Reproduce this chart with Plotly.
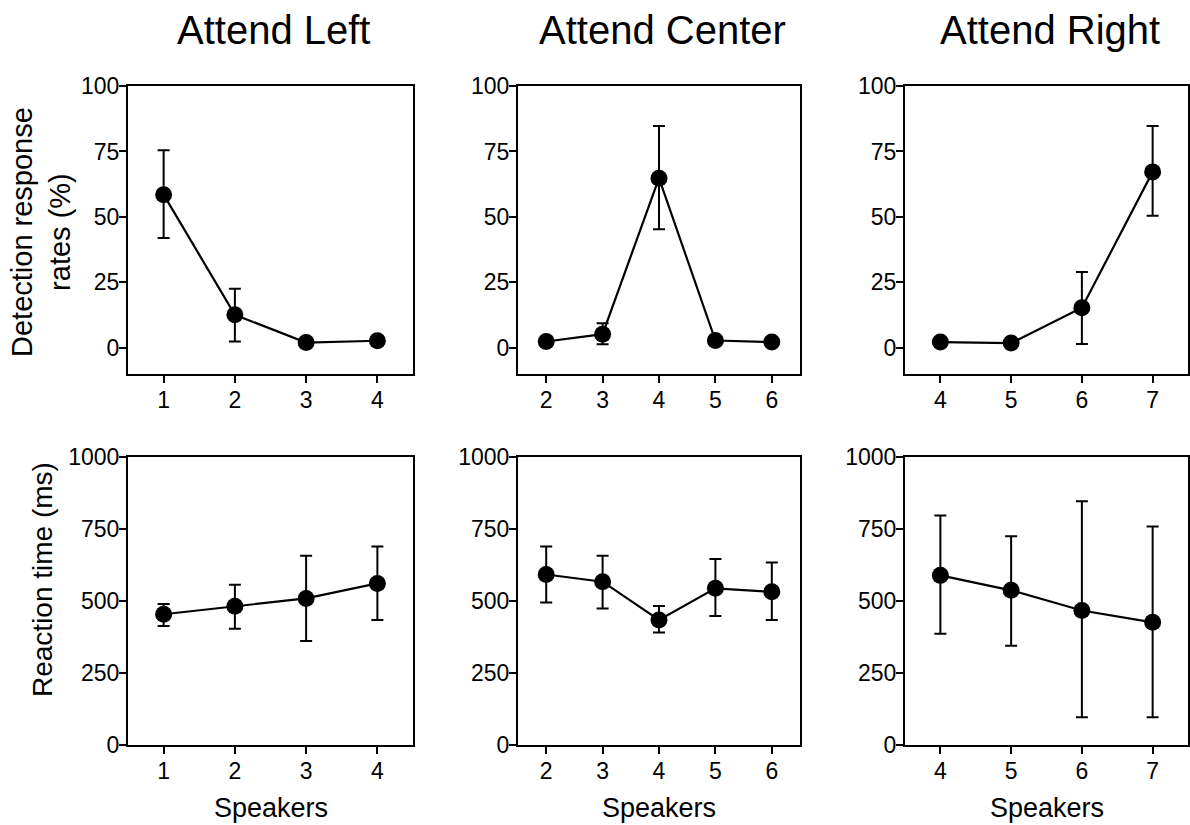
import plotly.graph_objects as go

W, H = 1190, 825
FONT = "Liberation Sans, Arial, sans-serif"

# ---- data ----
titles = ["Attend Left", "Attend Center", "Attend Right"]
speakers_left = [1, 2, 3, 4]
speakers_center = [2, 3, 4, 5, 6]
speakers_right = [4, 5, 6, 7]

det_left = [58.5, 12.6, 2.0, 2.7]
det_left_plus = [17.0, 10.0, 0, 0]
det_left_minus = [16.6, 10.2, 0, 0]

det_center = [2.4, 5.2, 64.8, 2.8, 2.2]
det_center_plus = [0, 4.2, 19.9, 0, 0]
det_center_minus = [0, 3.8, 19.5, 0, 0]

det_right = [2.2, 1.8, 15.3, 67.2]
det_right_plus = [0, 0, 13.7, 17.5]
det_right_minus = [0, 0, 13.8, 16.8]

rt_left = [454, 482, 509, 561]
rt_left_plus = [36, 74, 148, 128]
rt_left_minus = [41, 78, 148, 127]

rt_center = [592, 567, 434, 544, 532]
rt_center_plus = [97, 90, 49, 102, 102]
rt_center_minus = [97, 93, 43, 96, 98]

rt_right = [589, 537, 467, 426]
rt_right_plus = [208, 188, 379, 333]
rt_right_minus = [203, 192, 371, 330]

det_ticks = [0, 25, 50, 75, 100]
rt_ticks = [0, 250, 500, 750, 1000]

# ---- layout geometry (pixels) ----
xdom_px = [(128, 413), (518, 800), (905, 1188)]
ydom_px = [(86, 374), (457, 745)]  # top row, bottom row (from top)

def px_x(v):
    return v / W

def px_y(v):
    return 1 - v / H

panels = [
    (speakers_left, det_left, det_left_plus, det_left_minus, rt_left, rt_left_plus, rt_left_minus),
    (speakers_center, det_center, det_center_plus, det_center_minus, rt_center, rt_center_plus, rt_center_minus),
    (speakers_right, det_right, det_right_plus, det_right_minus, rt_right, rt_right_plus, rt_right_minus),
]

fig = go.Figure()

axis_common = dict(
    showline=True, linecolor="black", linewidth=2, mirror=True,
    ticks="outside", ticklen=7, tickwidth=2, tickcolor="black",
    showgrid=False, zeroline=False, automargin=False,
    tickfont=dict(family=FONT, size=23, color="black"),
)

layout_axes = {}
idx = 0
for row in range(2):
    for col in range(3):
        idx += 1
        xs, d, dp, dm, r, rp, rm = panels[col]
        y = d if row == 0 else r
        yp = dp if row == 0 else rp
        ym = dm if row == 0 else rm
        xname = "x" if idx == 1 else f"x{idx}"
        yname = "y" if idx == 1 else f"y{idx}"
        fig.add_trace(go.Scatter(
            x=xs, y=y, xaxis=xname, yaxis=yname,
            mode="lines+markers",
            line=dict(color="black", width=2.2),
            marker=dict(color="black", size=17),
            error_y=dict(type="data", array=yp, arrayminus=ym, symmetric=False,
                         color="black", thickness=2, width=6),
            showlegend=False, hoverinfo="skip",
        ))
        x0, x1 = xdom_px[col]
        ytop, ybot = ydom_px[row]
        xkey = "xaxis" if idx == 1 else f"xaxis{idx}"
        ykey = "yaxis" if idx == 1 else f"yaxis{idx}"
        layout_axes[xkey] = dict(
            axis_common, domain=[px_x(x0), px_x(x1)],
            range=[xs[0] - 0.5, xs[-1] + 0.5], tickvals=xs,
            anchor=yname, ticklabelstandoff=-3,
        )
        if row == 0:
            layout_axes[ykey] = dict(
                axis_common, domain=[px_y(ybot), px_y(ytop)],
                range=[-10, 100], tickvals=det_ticks, anchor=xname,
                ticklabelstandoff=-5,
            )
        else:
            layout_axes[ykey] = dict(
                axis_common, domain=[px_y(ybot), px_y(ytop)],
                range=[0, 1000], tickvals=rt_ticks, anchor=xname,
                ticklabelstandoff=-5,
            )

annotations = []
for col in range(3):
    cx = (xdom_px[col][0] + xdom_px[col][1]) / 2
    annotations.append(dict(
        text=titles[col], x=px_x(cx + 3), y=px_y(30), xref="paper", yref="paper",
        xanchor="center", yanchor="middle", showarrow=False,
        font=dict(family=FONT, size=40, color="black"),
    ))
    annotations.append(dict(
        text="Speakers", x=px_x(cx), y=px_y(808), xref="paper", yref="paper",
        xanchor="center", yanchor="middle", showarrow=False,
        font=dict(family=FONT, size=27, color="black"),
    ))

annotations.append(dict(
    text="Detection response<br>rates (%)", x=px_x(41), y=px_y(232),
    xref="paper", yref="paper", xanchor="center", yanchor="middle",
    showarrow=False, textangle=-90,
    font=dict(family=FONT, size=29, color="black"),
))
annotations.append(dict(
    text="Reaction time (ms)", x=px_x(42), y=px_y(580),
    xref="paper", yref="paper", xanchor="center", yanchor="middle",
    showarrow=False, textangle=-90,
    font=dict(family=FONT, size=28, color="black"),
))

fig.update_layout(
    width=W, height=H, autosize=False,
    margin=dict(l=0, r=0, t=0, b=0, pad=0, autoexpand=False),
    paper_bgcolor="white", plot_bgcolor="white",
    font=dict(family=FONT, color="black"),
    annotations=annotations,
    **layout_axes,
)

fig.write_html("out.html")
